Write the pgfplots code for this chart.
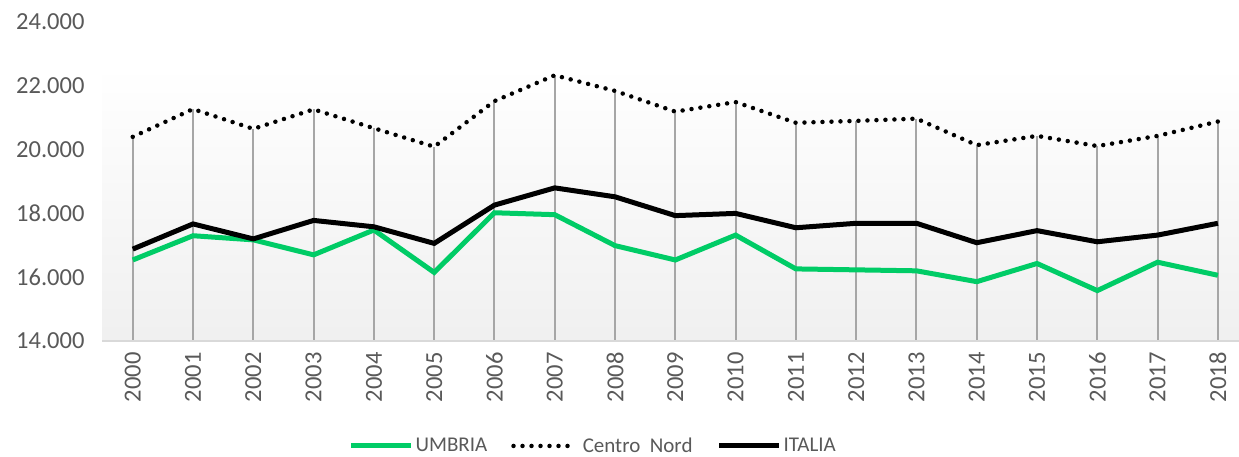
\documentclass[border=0pt]{standalone}
\usepackage{fontspec}
\setmainfont{Carlito}
\usepackage{pgfplots}
\usepackage{pgfplotstable}
\pgfplotsset{compat=1.18}
\definecolor{umbria}{RGB}{0,204,102}
\definecolor{txt}{RGB}{89,89,89}
\definecolor{drop}{RGB}{166,166,166}
\definecolor{axisline}{RGB}{217,217,217}
\newcommand\f{\fontsize{24.5bp}{28bp}\selectfont}
\newcommand\lf{\fontsize{21bp}{24bp}\selectfont}
\pgfplotstableread{
x  um     cn     it
0  16540  20400  16880
1  17300  21270  17670
2  17170  20650  17200
3  16700  21260  17780
4  17480  20670  17580
5  16150  20090  17060
6  18020  21520  18260
7  17960  22330  18800
8  16990  21840  18520
9  16540  21190  17930
10 17320  21490  18000
11 16260  20840  17550
12 16230  20900  17690
13 16200  20970  17690
14 15860  20140  17080
15 16430  20430  17460
16 15580  20110  17110
17 16470  20430  17320
18 16060  20880  17690
}\data
\begin{document}
\begin{tikzpicture}
\useasboundingbox (0,0) rectangle (1239bp,457bp);
\begin{axis}[
  name=ax,
  at={(102bp,116bp)}, anchor=south west,
  width=1137bp, height=319bp, scale only axis,
  xmin=-0.51, xmax=18.35, ymin=14000, ymax=24000,
  ytick={14000,16000,18000,20000,22000,24000},
  scaled y ticks=false,
  yticklabel style={/pgf/number format/fixed, /pgf/number format/precision=0},
  xtick={0,...,18},
  xticklabels={2000,2001,2002,2003,2004,2005,2006,2007,2008,2009,2010,2011,2012,2013,2014,2015,2016,2017,2018},
  axis line style={draw=none},
  major tick length=0pt,
  tick label style={font=\f, text=txt},
  /pgf/number format/1000 sep={.},
  /pgf/number format/assume math mode=true,
  xticklabel style={rotate=90, anchor=east},
  xticklabel shift=8bp,
  yticklabel shift=14bp,
  legend columns=3,
  legend style={at={(0.432,-0.329)}, anchor=center, draw=none, fill=none,
    font=\lf, text=txt,
    /tikz/every even column/.append style={column sep=22bp}},
  legend image code/.code={\draw[#1] (0bp,0bp) -- (60bp,0bp);},
]
\fill[top color=white, bottom color=black!6] (rel axis cs:0,0) rectangle (axis cs:18.35,22620);
\addplot[ycomb, draw=drop, line width=2bp, mark=none, forget plot] table[x=x,y=cn] {\data};
\addplot[umbria, line width=5bp, mark=none] table[x=x,y=um] {\data};
\addlegendentry{UMBRIA}
\addplot[black, line width=4.5bp, line cap=round, dash pattern=on 0pt off 9bp, mark=none] table[x=x,y=cn] {\data};
\addlegendentry{\hspace{5bp}Centro~ Nord}
\addplot[black, line width=5bp, mark=none] table[x=x,y=it] {\data};
\addlegendentry{ITALIA}
\end{axis}
\draw[axisline, line width=2bp] (ax.south west) -- (ax.south east);
\end{tikzpicture}
\end{document}
